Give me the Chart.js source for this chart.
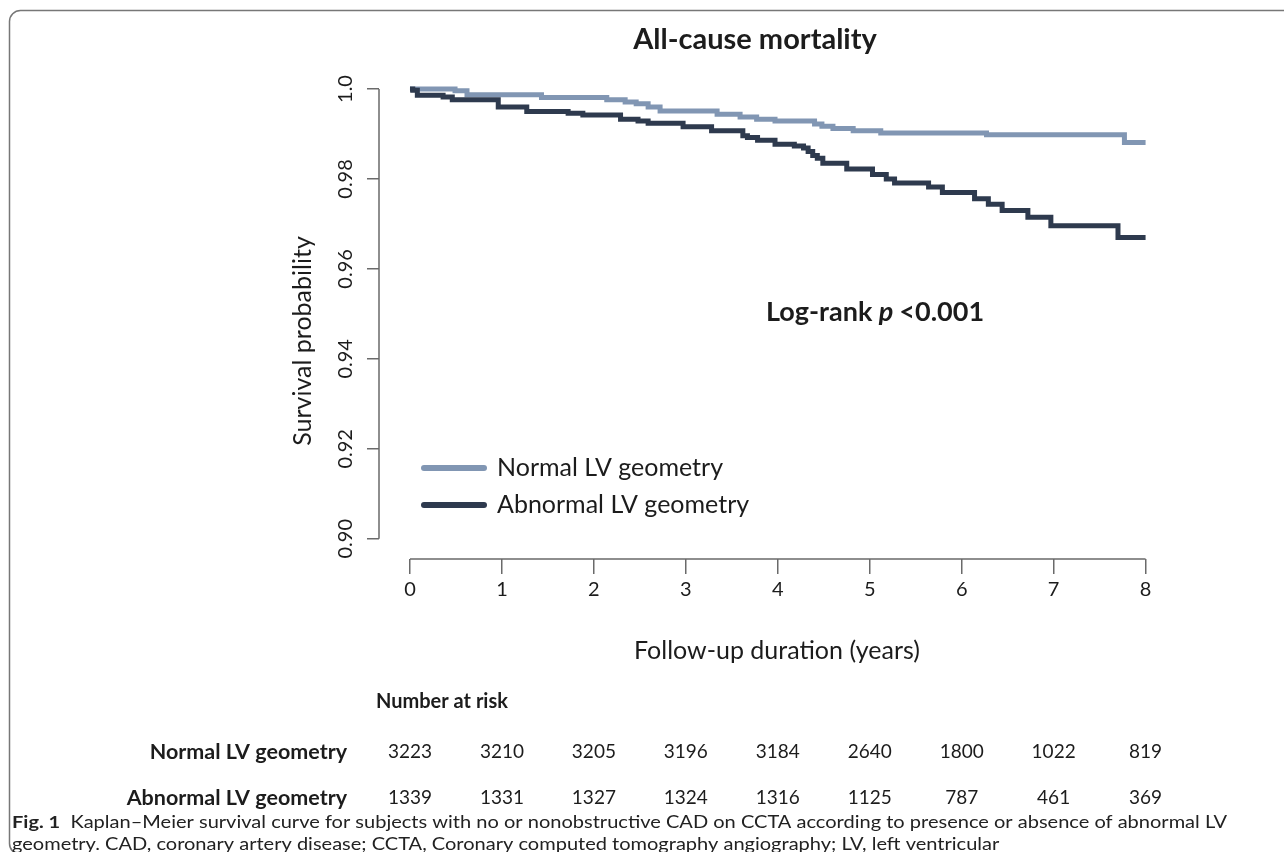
<!DOCTYPE html>
<html>
<head>
<meta charset="utf-8">
<script src="https://cdn.jsdelivr.net/npm/chart.js@4.4.1/dist/chart.umd.min.js"></script>
<style>
  html, body { margin: 0; padding: 0; background: #fff; }
  canvas { display: block; }
</style>
</head>
<body>
<canvas id="km" width="1284" height="852"></canvas>
<script>
// Kaplan-Meier steps (time in years, survival)
const normalTimes = [0, 0.49, 0.62, 1.43, 2.14, 2.34, 2.46, 2.59, 2.72, 3.34, 3.59, 3.77, 3.97, 4.40, 4.48, 4.60, 4.82, 5.12, 6.27, 7.77, 8.0];
const normalSurv = [1.0, 0.9996, 0.9987, 0.9981, 0.9976, 0.9971, 0.9967, 0.9960, 0.9951, 0.9944, 0.9938, 0.9933, 0.9929, 0.9922, 0.9917, 0.9912, 0.9907, 0.9902, 0.9898, 0.9881, 0.9881];
const abnormalTimes = [0, 0.03, 0.08, 0.36, 0.46, 0.96, 1.27, 1.72, 1.88, 2.29, 2.48, 2.59, 2.97, 3.28, 3.62, 3.67, 3.78, 3.97, 4.18, 4.28, 4.33, 4.38, 4.43, 4.49, 4.75, 5.03, 5.18, 5.27, 5.64, 5.79, 6.14, 6.29, 6.44, 6.72, 6.97, 7.70, 8.0];
const abnormalSurv = [1.0, 0.9997, 0.9986, 0.9982, 0.9976, 0.9960, 0.9950, 0.9946, 0.9942, 0.9933, 0.9929, 0.9924, 0.9916, 0.9907, 0.9896, 0.9892, 0.9886, 0.9877, 0.9873, 0.9869, 0.9861, 0.9852, 0.9846, 0.9835, 0.9822, 0.9810, 0.9800, 0.9791, 0.9782, 0.9770, 0.9756, 0.9744, 0.9730, 0.9715, 0.9696, 0.9670, 0.9670];

// Axes
const xTicks = [0, 1, 2, 3, 4, 5, 6, 7, 8];
const yTicks = [0.90, 0.92, 0.94, 0.96, 0.98, 1.0];
const yTickLabels = ['0.90', '0.92', '0.94', '0.96', '0.98', '1.0'];

// Number at risk table
const riskNormal = [3223, 3210, 3205, 3196, 3184, 2640, 1800, 1022, 819];
const riskAbnormal = [1339, 1331, 1327, 1324, 1316, 1125, 787, 461, 369];

const seriesLabels = ['Normal LV geometry', 'Abnormal LV geometry'];
const LIGHT = '#8196b3';
const DARK = '#2e3a4e';
const INK = '#1c1c1c';
const AXIS = '#6a6a6a';
const FONT = 'Lato, "Open Sans", sans-serif';

const toPoints = (ts, ss) => ts.map((t, i) => ({ x: t, y: ss[i] }));

const annotations = {
    id: 'annotations',
    beforeDraw(chart) {
        const ctx = chart.ctx;
        // figure frame (bottom edge falls just outside the picture)
        ctx.save();
        ctx.strokeStyle = '#777';
        ctx.lineWidth = 1.5;
        ctx.beginPath();
        ctx.roundRect(9.5, 10.5, 1300, 844, 11);
        ctx.stroke();
        ctx.restore();
    },
    afterDraw(chart) {
        const { ctx, scales: { x, y }, chartArea } = chart;
        ctx.save();

        // R-style axis lines spanning only the tick range
        ctx.strokeStyle = AXIS;
        ctx.lineWidth = 1.5;
        ctx.beginPath();
        ctx.moveTo(x.getPixelForValue(xTicks[0]), chartArea.bottom);
        ctx.lineTo(x.getPixelForValue(xTicks[xTicks.length - 1]), chartArea.bottom);
        ctx.moveTo(chartArea.left, y.getPixelForValue(yTicks[0]));
        ctx.lineTo(chartArea.left, y.getPixelForValue(yTicks[yTicks.length - 1]));
        ctx.stroke();

        ctx.fillStyle = INK;
        ctx.textBaseline = 'middle';

        // title
        ctx.textAlign = 'center';
        ctx.font = 'bold 29px ' + FONT;
        ctx.fillText('All-cause mortality', 755, 40);

        // y axis title (sits a little below the plot centre in the original)
        ctx.save();
        ctx.translate(303, 341);
        ctx.rotate(-Math.PI / 2);
        ctx.font = '25px ' + FONT;
        ctx.fillText('Survival probability', 0, 0);
        ctx.restore();

        // log-rank annotation
        ctx.textAlign = 'left';
        let px = 766;
        ctx.font = 'bold 27px ' + FONT;
        ctx.fillText('Log-rank ', px, 312);
        px += ctx.measureText('Log-rank ').width;
        ctx.font = 'italic bold 27px ' + FONT;
        ctx.fillText('p', px, 312);
        px += ctx.measureText('p ').width;
        ctx.font = 'bold 27px ' + FONT;
        ctx.fillText('<0.001', px, 312);

        // legend
        const colors = [LIGHT, DARK];
        const legendY = [468, 505];
        ctx.lineCap = 'round';
        ctx.lineWidth = 6;
        ctx.font = '25px ' + FONT;
        seriesLabels.forEach((lab, i) => {
            ctx.strokeStyle = colors[i];
            ctx.beginPath();
            ctx.moveTo(424, legendY[i]);
            ctx.lineTo(484, legendY[i]);
            ctx.stroke();
            ctx.fillText(lab, 497, legendY[i]);
        });

        // number at risk table
        ctx.font = 'bold 20px ' + FONT;
        ctx.textAlign = 'left';
        ctx.fillText('Number at risk', 376, 702);
        ctx.font = 'bold 21.5px ' + FONT;
        ctx.textAlign = 'right';
        ctx.fillText(seriesLabels[0], 347, 752);
        ctx.fillText(seriesLabels[1], 347, 798);
        ctx.font = '19px ' + FONT;
        ctx.textAlign = 'center';
        xTicks.forEach((t, i) => {
            const cx = x.getPixelForValue(t);
            ctx.fillText(String(riskNormal[i]), cx, 752);
            ctx.fillText(String(riskAbnormal[i]), cx, 798);
        });

        // caption
        const capBold = 'Fig. 1';
        const cap1 = '  Kaplan\u2013Meier survival curve for subjects with no or nonobstructive CAD on CCTA according to presence or absence of abnormal LV';
        const cap2 = 'geometry. CAD, coronary artery disease; CCTA, Coronary computed tomography angiography; LV, left ventricular';
        ctx.textAlign = 'left';
        ctx.font = 'bold 17.5px ' + FONT;
        const wb = ctx.measureText(capBold).width;
        ctx.font = '17.5px ' + FONT;
        const w1 = ctx.measureText(cap1).width;
        const sx = 1215 / (wb + w1);
        ctx.fillStyle = '#222';
        ctx.save();
        ctx.translate(12, 822);
        ctx.scale(sx, 1);
        ctx.font = 'bold 17.5px ' + FONT;
        ctx.fillText(capBold, 0, 0);
        ctx.font = '17.5px ' + FONT;
        ctx.fillText(cap1, wb, 0);
        ctx.fillText(cap2, 0, 22);
        ctx.restore();

        ctx.restore();
    }
};

new Chart(document.getElementById('km'), {
    type: 'line',
    data: {
        datasets: [
            {
                label: seriesLabels[0],
                data: toPoints(normalTimes, normalSurv),
                borderColor: LIGHT,
                borderWidth: 5,
                stepped: true,
                pointRadius: 0,
                fill: false,
                order: 2
            },
            {
                label: seriesLabels[1],
                data: toPoints(abnormalTimes, abnormalSurv),
                borderColor: DARK,
                borderWidth: 5,
                stepped: true,
                pointRadius: 0,
                fill: false,
                order: 1
            }
        ]
    },
    options: {
        responsive: false,
        animation: false,
        devicePixelRatio: 1,
        layout: { padding: { left: 0, top: 71, right: 109, bottom: 0 } },
        plugins: {
            legend: { display: false },
            title: { display: false },
            tooltip: { enabled: false }
        },
        scales: {
            x: {
                type: 'linear',
                min: -0.337,
                max: 8.32,
                afterBuildTicks: s => { s.ticks = xTicks.map(v => ({ value: v })); },
                afterFit: s => { s.height = 293; },
                grid: { drawOnChartArea: false, drawTicks: true, tickLength: 15, color: AXIS, lineWidth: 1.5 },
                border: { display: false },
                ticks: { color: INK, font: { family: FONT, size: 20 }, padding: 4, maxRotation: 0 },
                title: {
                    display: true,
                    text: 'Follow-up duration (years)',
                    color: INK,
                    font: { family: FONT, size: 25 },
                    padding: { top: 0, bottom: 186 }
                }
            },
            y: {
                type: 'linear',
                min: 0.8955,
                max: 1.004,
                afterBuildTicks: s => { s.ticks = yTicks.map(v => ({ value: v })); },
                afterFit: s => { s.width = 379; },
                grid: { drawOnChartArea: false, drawTicks: true, tickLength: 12, color: AXIS, lineWidth: 1.5 },
                border: { display: false },
                ticks: {
                    color: INK,
                    font: { family: FONT, size: 20 },
                    minRotation: 90,
                    maxRotation: 90,
                    crossAlign: 'center',
                    padding: 2,
                    callback: (v, i) => yTickLabels[i]
                }
            }
        }
    },
    plugins: [annotations]
});
</script>
</body>
</html>
